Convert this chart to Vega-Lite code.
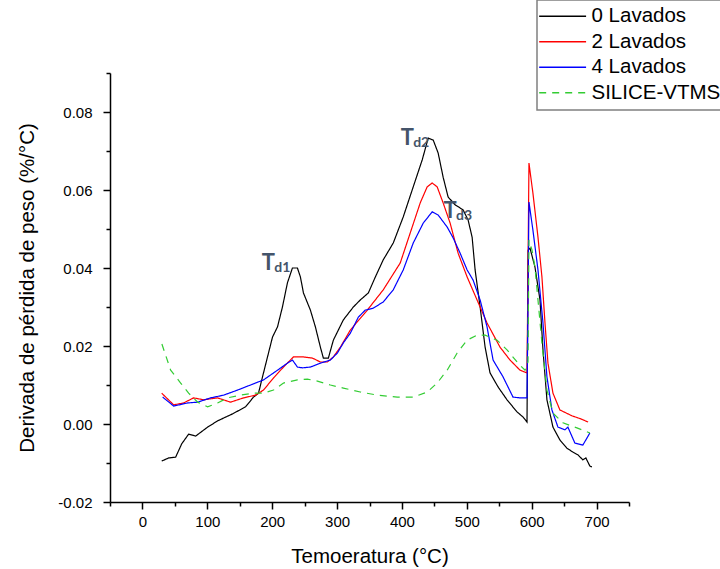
{
  "$schema": "https://vega.github.io/schema/vega-lite/v6.json",
  "autosize": {"type": "none"},
  "width": 519,
  "height": 429,
  "padding": {"left": 110, "top": 73, "right": 91, "bottom": 67},
  "background": "white",
  "config": {
    "view": {"stroke": null},
    "font": "Liberation Sans",
    "axis": {"grid": false, "domainColor": "black", "domainWidth": 1.5, "tickColor": "black", "tickWidth": 1.5, "labelColor": "black", "titleColor": "black", "labelFont": "Liberation Sans", "titleFont": "Liberation Sans", "labelFontSize": 15, "titleFontSize": 20.5, "titleFontWeight": "normal", "labelOverlap": false},
    "legend": {
      "orient": "none", "legendX": 427, "legendY": -73, "padding": 6,
      "strokeColor": "#808080", "strokeWidth": 1.5, "fillColor": "white",
      "symbolType": "M-3,0H7", "symbolSize": 88, "symbolStrokeWidth": 1.5, "symbolFillColor": "transparent",
      "labelFont": "Liberation Sans", "labelFontSize": 20.5, "labelColor": "black", "labelOffset": 28, "rowPadding": 4.5, "labelLimit": 300
    }
  },
  "datasets": {
    "ann": [
      {"t": "T", "sub": "d1", "x": 184, "y": 0.0395},
      {"t": "T", "sub": "d2", "x": 398, "y": 0.0715},
      {"t": "T", "sub": "d3", "x": 464, "y": 0.0528}
    ]
  },
  "resolve": {"axis": {"x": "independent", "y": "independent"}},
  "layer": [
    {
      "data": {"values": [
        {"s":"0 Lavados","x":29.7,"y":-0.0095},{"s":"0 Lavados","x":40.5,"y":-0.0087},{"s":"0 Lavados","x":51.2,"y":-0.0085},{"s":"0 Lavados","x":60.5,"y":-0.0051},{"s":"0 Lavados","x":71.2,"y":-0.0026},{"s":"0 Lavados","x":82,"y":-0.0031},{"s":"0 Lavados","x":100.5,"y":-0.0008},{"s":"0 Lavados","x":115.8,"y":0.0008},{"s":"0 Lavados","x":138.9,"y":0.0026},{"s":"0 Lavados","x":159,"y":0.0044},{"s":"0 Lavados","x":171.2,"y":0.0069},{"s":"0 Lavados","x":178.9,"y":0.0079},{"s":"0 Lavados","x":185.1,"y":0.0121},{"s":"0 Lavados","x":192.8,"y":0.0172},{"s":"0 Lavados","x":200.5,"y":0.0223},{"s":"0 Lavados","x":208.2,"y":0.0249},{"s":"0 Lavados","x":215.8,"y":0.03},{"s":"0 Lavados","x":223.5,"y":0.0362},{"s":"0 Lavados","x":231.2,"y":0.04},{"s":"0 Lavados","x":238.9,"y":0.04},{"s":"0 Lavados","x":243.5,"y":0.0377},{"s":"0 Lavados","x":248.2,"y":0.0336},{"s":"0 Lavados","x":258.9,"y":0.0292},{"s":"0 Lavados","x":266.6,"y":0.0249},{"s":"0 Lavados","x":274.3,"y":0.0197},{"s":"0 Lavados","x":278.9,"y":0.0169},{"s":"0 Lavados","x":286.6,"y":0.0169},{"s":"0 Lavados","x":294.3,"y":0.0215},{"s":"0 Lavados","x":309.7,"y":0.0267},{"s":"0 Lavados","x":325.1,"y":0.03},{"s":"0 Lavados","x":335.8,"y":0.0318},{"s":"0 Lavados","x":348.2,"y":0.0336},{"s":"0 Lavados","x":359,"y":0.0377},{"s":"0 Lavados","x":371.2,"y":0.0421},{"s":"0 Lavados","x":386.6,"y":0.0464},{"s":"0 Lavados","x":402,"y":0.0531},{"s":"0 Lavados","x":417.4,"y":0.0608},{"s":"0 Lavados","x":431.2,"y":0.0677},{"s":"0 Lavados","x":440.5,"y":0.0733},{"s":"0 Lavados","x":448.2,"y":0.0728},{"s":"0 Lavados","x":455.8,"y":0.0695},{"s":"0 Lavados","x":463.5,"y":0.0633},{"s":"0 Lavados","x":471.2,"y":0.0582},{"s":"0 Lavados","x":482,"y":0.0562},{"s":"0 Lavados","x":494.3,"y":0.0549},{"s":"0 Lavados","x":502,"y":0.0523},{"s":"0 Lavados","x":508.2,"y":0.0479},{"s":"0 Lavados","x":512.8,"y":0.0395},{"s":"0 Lavados","x":520.5,"y":0.03},{"s":"0 Lavados","x":528.2,"y":0.0197},{"s":"0 Lavados","x":535.8,"y":0.0131},{"s":"0 Lavados","x":548.2,"y":0.0095},{"s":"0 Lavados","x":562,"y":0.0062},{"s":"0 Lavados","x":577.4,"y":0.0031},{"s":"0 Lavados","x":586.6,"y":0.0018},{"s":"0 Lavados","x":592.8,"y":0.0005},{"s":"0 Lavados","x":594.5,"y":0.0446},{"s":"0 Lavados","x":597.4,"y":0.0451},{"s":"0 Lavados","x":605,"y":0.0403},{"s":"0 Lavados","x":612.8,"y":0.0318},{"s":"0 Lavados","x":617.4,"y":0.019},{"s":"0 Lavados","x":623.5,"y":0.0062},{"s":"0 Lavados","x":632.8,"y":-0.0008},{"s":"0 Lavados","x":643.5,"y":-0.0041},{"s":"0 Lavados","x":654.3,"y":-0.0062},{"s":"0 Lavados","x":663.5,"y":-0.0072},{"s":"0 Lavados","x":671.2,"y":-0.0079},{"s":"0 Lavados","x":678.9,"y":-0.0092},{"s":"0 Lavados","x":683.5,"y":-0.0087},{"s":"0 Lavados","x":689.7,"y":-0.0108},{"s":"0 Lavados","x":692.8,"y":-0.011},
        {"s":"2 Lavados","x":29.7,"y":0.0079},{"s":"2 Lavados","x":48.2,"y":0.0049},{"s":"2 Lavados","x":63.5,"y":0.0054},{"s":"2 Lavados","x":78.9,"y":0.0067},{"s":"2 Lavados","x":94.3,"y":0.0062},{"s":"2 Lavados","x":115.8,"y":0.0067},{"s":"2 Lavados","x":135.8,"y":0.0056},{"s":"2 Lavados","x":155.8,"y":0.0067},{"s":"2 Lavados","x":174.3,"y":0.0074},{"s":"2 Lavados","x":186.6,"y":0.0087},{"s":"2 Lavados","x":202,"y":0.0118},{"s":"2 Lavados","x":217.4,"y":0.0146},{"s":"2 Lavados","x":232.8,"y":0.0172},{"s":"2 Lavados","x":248.2,"y":0.0172},{"s":"2 Lavados","x":262,"y":0.0169},{"s":"2 Lavados","x":274.3,"y":0.0159},{"s":"2 Lavados","x":285.1,"y":0.0159},{"s":"2 Lavados","x":294.3,"y":0.0172},{"s":"2 Lavados","x":305.1,"y":0.0197},{"s":"2 Lavados","x":320.5,"y":0.0241},{"s":"2 Lavados","x":346.6,"y":0.0292},{"s":"2 Lavados","x":371.2,"y":0.0344},{"s":"2 Lavados","x":397.4,"y":0.0413},{"s":"2 Lavados","x":412.8,"y":0.049},{"s":"2 Lavados","x":428.2,"y":0.0567},{"s":"2 Lavados","x":438.9,"y":0.0608},{"s":"2 Lavados","x":446.6,"y":0.0618},{"s":"2 Lavados","x":454.3,"y":0.0608},{"s":"2 Lavados","x":463.5,"y":0.0567},{"s":"2 Lavados","x":474.3,"y":0.0515},{"s":"2 Lavados","x":486.6,"y":0.0438},{"s":"2 Lavados","x":500.5,"y":0.0377},{"s":"2 Lavados","x":515.8,"y":0.0318},{"s":"2 Lavados","x":531.2,"y":0.0259},{"s":"2 Lavados","x":551.2,"y":0.0197},{"s":"2 Lavados","x":566.6,"y":0.0164},{"s":"2 Lavados","x":582,"y":0.0138},{"s":"2 Lavados","x":592.8,"y":0.0131},{"s":"2 Lavados","x":595.8,"y":0.0669},{"s":"2 Lavados","x":601.9,"y":0.0592},{"s":"2 Lavados","x":609.7,"y":0.0479},{"s":"2 Lavados","x":615.8,"y":0.0377},{"s":"2 Lavados","x":620.5,"y":0.0259},{"s":"2 Lavados","x":625.1,"y":0.0156},{"s":"2 Lavados","x":632.8,"y":0.0079},{"s":"2 Lavados","x":643.5,"y":0.0036},{"s":"2 Lavados","x":662,"y":0.0021},{"s":"2 Lavados","x":676,"y":0.0013},{"s":"2 Lavados","x":687,"y":0.0005},
        {"s":"4 Lavados","x":31.2,"y":0.0069},{"s":"4 Lavados","x":48.2,"y":0.0046},{"s":"4 Lavados","x":69.7,"y":0.0054},{"s":"4 Lavados","x":85.1,"y":0.0056},{"s":"4 Lavados","x":105.1,"y":0.0067},{"s":"4 Lavados","x":125.1,"y":0.0074},{"s":"4 Lavados","x":146.6,"y":0.0087},{"s":"4 Lavados","x":166.6,"y":0.01},{"s":"4 Lavados","x":186.6,"y":0.0113},{"s":"4 Lavados","x":208.2,"y":0.0138},{"s":"4 Lavados","x":223.5,"y":0.0156},{"s":"4 Lavados","x":231.2,"y":0.0164},{"s":"4 Lavados","x":238.9,"y":0.0146},{"s":"4 Lavados","x":246.6,"y":0.0144},{"s":"4 Lavados","x":258.9,"y":0.0146},{"s":"4 Lavados","x":274.3,"y":0.0156},{"s":"4 Lavados","x":289.7,"y":0.0164},{"s":"4 Lavados","x":300.5,"y":0.0182},{"s":"4 Lavados","x":309.7,"y":0.0208},{"s":"4 Lavados","x":320.5,"y":0.0233},{"s":"4 Lavados","x":332.8,"y":0.0274},{"s":"4 Lavados","x":343.5,"y":0.0292},{"s":"4 Lavados","x":355.8,"y":0.0297},{"s":"4 Lavados","x":371.2,"y":0.0313},{"s":"4 Lavados","x":386.6,"y":0.0344},{"s":"4 Lavados","x":402,"y":0.0395},{"s":"4 Lavados","x":417.4,"y":0.0464},{"s":"4 Lavados","x":432.8,"y":0.0515},{"s":"4 Lavados","x":446.6,"y":0.0544},{"s":"4 Lavados","x":455.8,"y":0.0536},{"s":"4 Lavados","x":469.7,"y":0.0505},{"s":"4 Lavados","x":479,"y":0.0477},{"s":"4 Lavados","x":489.7,"y":0.0438},{"s":"4 Lavados","x":500.5,"y":0.0395},{"s":"4 Lavados","x":509.7,"y":0.0369},{"s":"4 Lavados","x":520.5,"y":0.0318},{"s":"4 Lavados","x":531.2,"y":0.0249},{"s":"4 Lavados","x":540.5,"y":0.0164},{"s":"4 Lavados","x":555.8,"y":0.0121},{"s":"4 Lavados","x":571.2,"y":0.0069},{"s":"4 Lavados","x":582,"y":0.0067},{"s":"4 Lavados","x":592.8,"y":0.0067},{"s":"4 Lavados","x":595.8,"y":0.0569},{"s":"4 Lavados","x":601.9,"y":0.0497},{"s":"4 Lavados","x":609.7,"y":0.0395},{"s":"4 Lavados","x":617.4,"y":0.0259},{"s":"4 Lavados","x":623.5,"y":0.0121},{"s":"4 Lavados","x":631.2,"y":0.0036},{"s":"4 Lavados","x":640.5,"y":-0.0008},{"s":"4 Lavados","x":651.2,"y":-0.0015},{"s":"4 Lavados","x":655.8,"y":-0.0008},{"s":"4 Lavados","x":666.6,"y":-0.0049},{"s":"4 Lavados","x":678.9,"y":-0.0054},{"s":"4 Lavados","x":689.7,"y":-0.0023},
        {"s":"SILICE-VTMS","x":30,"y":0.0205},{"s":"SILICE-VTMS","x":43.5,"y":0.0138},{"s":"SILICE-VTMS","x":58.9,"y":0.0105},{"s":"SILICE-VTMS","x":71.2,"y":0.0079},{"s":"SILICE-VTMS","x":85.1,"y":0.0056},{"s":"SILICE-VTMS","x":100.5,"y":0.0044},{"s":"SILICE-VTMS","x":115.8,"y":0.0054},{"s":"SILICE-VTMS","x":131.2,"y":0.0067},{"s":"SILICE-VTMS","x":151.2,"y":0.0074},{"s":"SILICE-VTMS","x":171.2,"y":0.0079},{"s":"SILICE-VTMS","x":186.6,"y":0.0079},{"s":"SILICE-VTMS","x":202,"y":0.0087},{"s":"SILICE-VTMS","x":217.4,"y":0.0105},{"s":"SILICE-VTMS","x":238.9,"y":0.0113},{"s":"SILICE-VTMS","x":254.3,"y":0.0115},{"s":"SILICE-VTMS","x":269.7,"y":0.011},{"s":"SILICE-VTMS","x":289.7,"y":0.01},{"s":"SILICE-VTMS","x":309.7,"y":0.0092},{"s":"SILICE-VTMS","x":335.8,"y":0.0082},{"s":"SILICE-VTMS","x":362,"y":0.0074},{"s":"SILICE-VTMS","x":392.8,"y":0.0069},{"s":"SILICE-VTMS","x":417.4,"y":0.0069},{"s":"SILICE-VTMS","x":438.9,"y":0.0082},{"s":"SILICE-VTMS","x":454.3,"y":0.0105},{"s":"SILICE-VTMS","x":469.7,"y":0.0138},{"s":"SILICE-VTMS","x":485.1,"y":0.0182},{"s":"SILICE-VTMS","x":500.5,"y":0.0215},{"s":"SILICE-VTMS","x":515.8,"y":0.0228},{"s":"SILICE-VTMS","x":528.2,"y":0.0228},{"s":"SILICE-VTMS","x":546.6,"y":0.0215},{"s":"SILICE-VTMS","x":562,"y":0.019},{"s":"SILICE-VTMS","x":579,"y":0.0156},{"s":"SILICE-VTMS","x":589.7,"y":0.0138},{"s":"SILICE-VTMS","x":594.3,"y":0.0159},{"s":"SILICE-VTMS","x":595.8,"y":0.0472},{"s":"SILICE-VTMS","x":600.5,"y":0.0446},{"s":"SILICE-VTMS","x":605,"y":0.0403},{"s":"SILICE-VTMS","x":609.7,"y":0.0318},{"s":"SILICE-VTMS","x":615.8,"y":0.0208},{"s":"SILICE-VTMS","x":623.5,"y":0.0087},{"s":"SILICE-VTMS","x":632.8,"y":0.0028},{"s":"SILICE-VTMS","x":648.2,"y":0.0003},{"s":"SILICE-VTMS","x":669.7,"y":-0.001},{"s":"SILICE-VTMS","x":689.7,"y":-0.0023}
      ]},
      "mark": {"type": "line", "strokeWidth": 1.2},
      "encoding": {
        "x": {"field": "x", "type": "quantitative", "scale": {"domain": [-50, 750], "nice": false, "zero": false},
          "axis": {"orient": "bottom", "title": "Temoeratura (°C)", "values": [0,100,200,300,400,500,600,700],
            "format": "d", "tickSize": 7, "labelPadding": 5, "titlePadding": 17, "labelFlush": false}},
        "y": {"field": "y", "type": "quantitative", "scale": {"domain": [-0.02, 0.09], "nice": false, "zero": false},
          "axis": {"orient": "left", "title": "Derivada de pérdida de peso (%/°C)", "values": [-0.02,0,0.02,0.04,0.06,0.08],
            "labelExpr": "datum.value < -0.0001 ? '-' + format(abs(datum.value), '.2f') : format(datum.value, '.2f')",
            "tickSize": 7, "labelPadding": 11, "titlePadding": 20, "labelFlush": false}},
        "color": {"field": "s", "type": "nominal", "title": null,
          "scale": {"domain": ["0 Lavados","2 Lavados","4 Lavados","SILICE-VTMS"], "range": ["#000000","#ff0000","#0000ff","#33cc33"]}},
        "strokeDash": {"field": "s", "type": "nominal", "title": null,
          "scale": {"domain": ["0 Lavados","2 Lavados","4 Lavados","SILICE-VTMS"], "range": [[1,0],[1,0],[1,0],[7,6]]}},
        "strokeWidth": {"condition": {"test": "datum.s == 'SILICE-VTMS'", "value": 1.8}, "value": 1.1}
      }
    },
    {
      "data": {"name": "ann"},
      "mark": {"type": "text", "align": "left", "baseline": "alphabetic", "font": "Lato", "fontWeight": "bold", "fontSize": 22, "color": "#44546a"},
      "encoding": {
        "x": {"field": "x", "type": "quantitative", "axis": {"orient": "bottom", "values": [-50,50,150,250,350,450,550,650,750], "labels": false, "domain": false, "title": null, "tickSize": 4}},
        "y": {"field": "y", "type": "quantitative", "axis": {"orient": "left", "values": [-0.01,0.01,0.03,0.05,0.07,0.09], "labels": false, "domain": false, "title": null, "tickSize": 4}},
        "text": {"field": "t"}}
    },
    {
      "data": {"name": "ann"},
      "mark": {"type": "text", "align": "left", "baseline": "alphabetic", "font": "Lato", "fontWeight": "bold", "fontSize": 14, "color": "#44546a", "dx": 12.5, "dy": 2},
      "encoding": {"x": {"field": "x", "type": "quantitative", "axis": null}, "y": {"field": "y", "type": "quantitative", "axis": null}, "text": {"field": "sub"}}
    }
  ]
}
